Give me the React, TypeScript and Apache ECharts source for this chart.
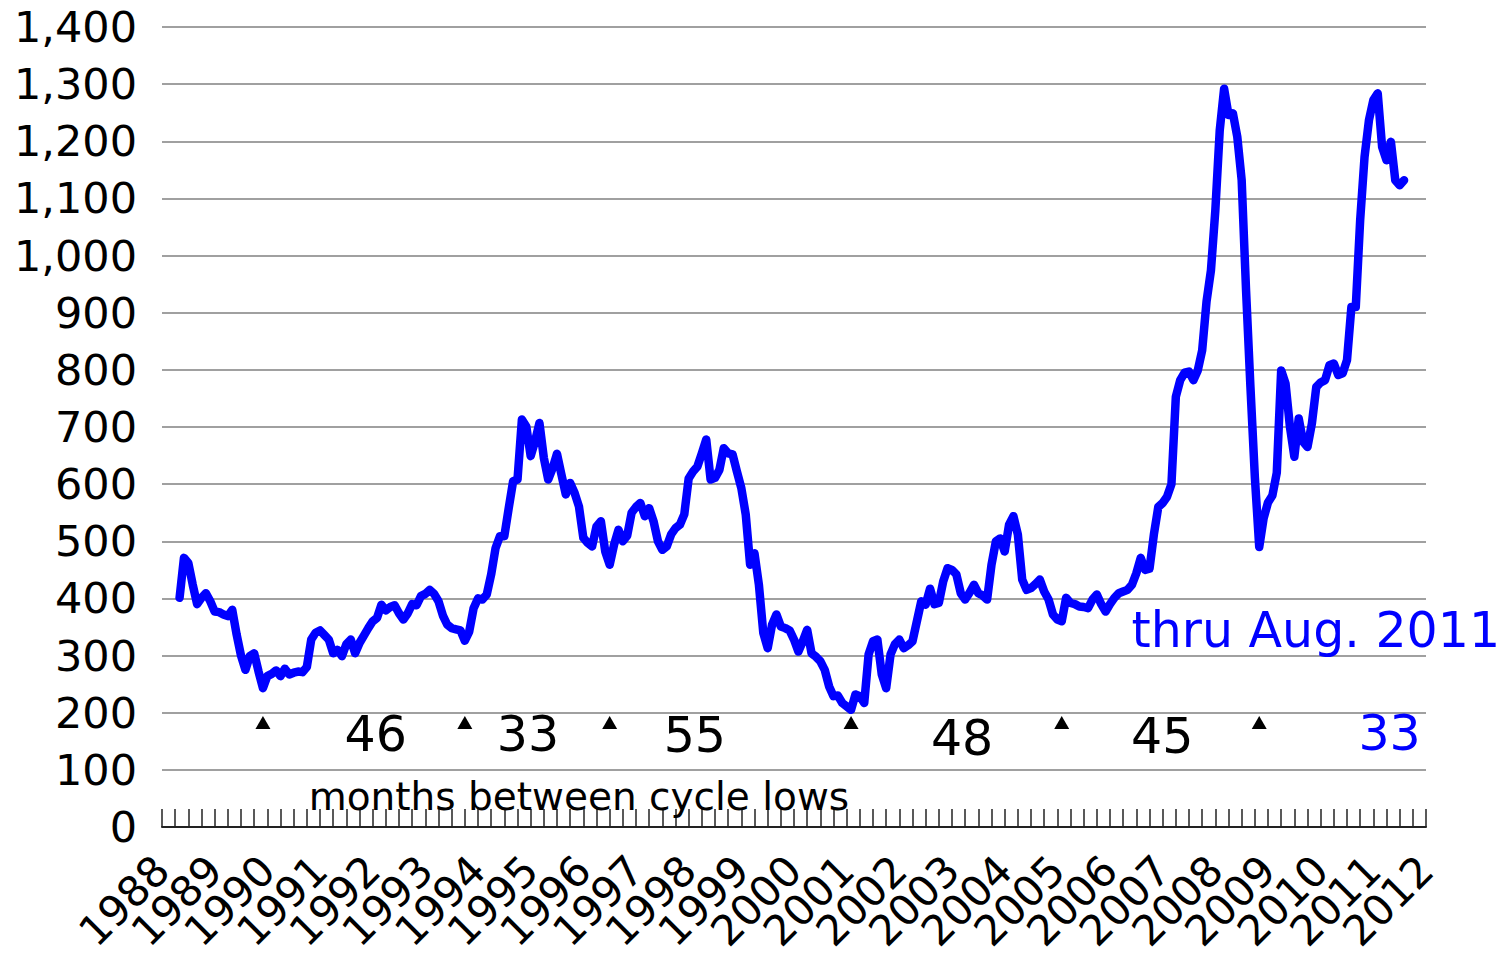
import React, { useEffect, useRef } from "react";
import * as echarts from "echarts";

// Month index: 0 = Jan 1988
const startMonth = 4;
const yearLabels = [
  "1988", "1989", "1990", "1991", "1992", "1993", "1994", "1995", "1996",
  "1997", "1998", "1999", "2000", "2001", "2002", "2003", "2004", "2005",
  "2006", "2007", "2008", "2009", "2010", "2011", "2012",
];
const values = [
  401, 471, 462, 424, 390, 401, 409, 395, 377, 376,
  372, 369, 380, 337, 300, 275, 299, 304, 272, 243,
  264, 268, 274, 264, 277, 267, 270, 272, 271, 280,
  328, 340, 344, 336, 328, 304, 310, 299, 320, 328,
  304, 322, 335, 348, 360, 366, 389, 379, 385, 388,
  374, 363, 374, 390, 388, 404, 408, 415, 408, 395,
  370, 354, 348, 346, 344, 326, 342, 383, 400, 398,
  407, 442, 488, 509, 509, 558, 605, 608, 713, 701,
  649, 675, 707, 646, 608, 628, 653, 617, 582, 602,
  585, 561, 506, 497, 491, 526, 535, 482, 459, 494,
  520, 500, 510, 550, 560, 567, 544, 558, 535, 500,
  485, 491, 512, 523, 529, 547, 610, 622, 631, 654,
  678, 608, 611, 625, 663, 654, 652, 622, 593, 547,
  459, 479, 424, 340, 313, 354, 372, 351, 348, 344,
  328, 307, 325, 345, 304, 298, 290, 275, 246, 229,
  230, 217, 211, 205, 232, 229, 217, 302, 325, 328,
  267, 243, 302, 320, 328, 313, 318, 325, 360, 395,
  389, 417, 390, 392, 430, 453, 450, 442, 409, 398,
  410, 424, 409, 405, 398, 459, 500, 505, 482, 529,
  544, 512, 433, 415, 418, 425, 433, 412, 398, 372,
  363, 360, 401, 392, 390, 386, 385, 383, 398, 407,
  390, 377, 390, 401, 409, 412, 415, 424, 444, 471,
  450, 452, 512, 560, 567, 578, 600, 753, 782, 795,
  797, 782, 799, 834, 920, 974, 1079, 1219, 1292, 1246,
  1249, 1208, 1132, 939, 770, 613, 490, 540, 568, 580,
  620, 799, 776, 700, 648, 715, 674, 665, 706, 770,
  778, 782, 808, 811, 791, 794, 817, 910, 910, 1062,
  1173, 1237, 1272, 1284, 1190, 1167, 1199, 1132, 1123, 1132,
];

// Cycle lows (month index)
const cycleLows = [23, 69, 102, 157, 205, 250];
const lowMarkerLevel = 183;

// Months between lows, with label positions (month index, value)
const gapLabels = ["46", "33", "55", "48", "45", "33"];
const gapLabelX = [48.7, 83.4, 121.4, 182.3, 227.9, 279.7];
const gapLabelY = [162, 162, 160, 155, 158, 164];
const gapLabelColor = ["#000000", "#000000", "#000000", "#000000", "#000000", "#0000ff"];

const noteText = "months between cycle lows";
const notePos = [95, 53];
const thruText = "thru Aug. 2011";
const thruPos = [220.9, 344];

const FONT = "DejaVu Sans";

export default function App() {
  const ref = useRef<HTMLDivElement>(null);

  useEffect(() => {
    if (!ref.current) return;
    const chart = echarts.init(ref.current, null, { renderer: "svg" });
    const lineData = values.map((v, i) => [startMonth + i, v]);
    const lowData = cycleLows.map((m) => [m, lowMarkerLevel]);
    const gapData = gapLabels.map((t, i) => ({
      value: [gapLabelX[i], gapLabelY[i]],
      name: t,
      label: { color: gapLabelColor[i] },
    }));

    const textSeries = (data: any[], fontSize: number, color: string, position: any) => ({
      type: "scatter",
      data,
      symbolSize: 0,
      itemStyle: { opacity: 1 },
      silent: true,
      label: {
        show: true,
        position,
        distance: 0,
        formatter: (p: any) => p.name,
        fontFamily: FONT,
        fontSize,
        color,
        opacity: 1,
        textBorderWidth: 0,
      },
      z: 5,
    });

    chart.setOption({
      animation: false,
      backgroundColor: "#ffffff",
      grid: {
        left: 162,
        right: 80,
        top: 27,
        bottom: 128,
        containLabel: false,
        outerBoundsMode: "none",
      },
      xAxis: [
        {
          type: "value",
          min: 0,
          max: yearLabels.length * 12 - 12,
          interval: 12,
          axisLine: { show: true, lineStyle: { color: "#222222", width: 2 } },
          axisTick: { show: true, inside: true, length: 18, lineStyle: { color: "#222222", width: 1.5 } },
          minorTick: { show: true, splitNumber: 4, length: 18, lineStyle: { color: "#222222", width: 1.5 } },
          splitLine: { show: false },
          axisLabel: { show: false },
        },
        {
          type: "category",
          position: "bottom",
          data: yearLabels,
          boundaryGap: false,
          axisLine: { show: false },
          axisTick: { show: false },
          splitLine: { show: false },
          axisLabel: {
            interval: 0,
            rotate: 45,
            margin: 36,
            fontFamily: FONT,
            fontSize: 42,
            color: "#000000",
          },
        },
      ],
      yAxis: {
        type: "value",
        min: 0,
        max: 1400,
        interval: 100,
        axisLine: { show: false },
        axisTick: { show: false },
        splitLine: { show: true, lineStyle: { color: "#a0a0a0", width: 2 } },
        axisLabel: {
          margin: 25,
          fontFamily: FONT,
          fontSize: 43,
          color: "#000000",
          formatter: (v: number) => v.toLocaleString("en-US"),
        },
      },
      series: [
        {
          type: "line",
          data: lineData,
          showSymbol: false,
          symbol: "none",
          lineStyle: { color: "#0000ff", width: 8.5, join: "round", cap: "round" },
          z: 3,
        },
        {
          type: "scatter",
          data: lowData,
          symbol: "triangle",
          symbolSize: [15, 13],
          itemStyle: { color: "#000000", opacity: 1 },
          z: 4,
        },
        textSeries(gapData, 49, "#000000", "inside"),
        textSeries([{ value: notePos, name: noteText }], 39, "#000000", "inside"),
        textSeries([{ value: thruPos, name: thruText }], 49, "#0000ff", "right"),
      ],
    });
    return () => chart.dispose();
  }, []);

  return (
    <div
      ref={ref}
      style={{ position: "fixed", left: 0, top: 0, width: 1506, height: 955, background: "#fff" }}
    />
  );
}
